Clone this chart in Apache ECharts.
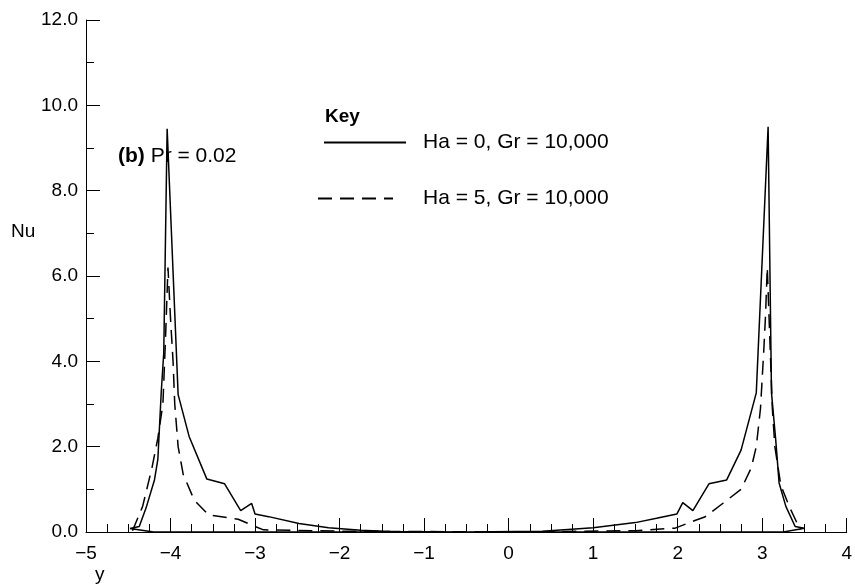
<!DOCTYPE html>
<html>
<head>
<meta charset="utf-8">
<script src="https://cdn.jsdelivr.net/npm/echarts@6/dist/echarts.min.js"></script>
<style>html,body{margin:0;padding:0;background:#fff}#c{width:855px;height:586px}</style>
</head>
<body>
<div id="c"></div>
<script>
// Data
var seriesNames = ['Ha = 0, Gr = 10,000', 'Ha = 5, Gr = 10,000'];
var ha0 = [
  [-4.48,0.08],[-4.37,0.13],[-4.29,0.56],[-4.19,1.22],[-4.15,1.7],[-4.11,3.27],[-4.08,4.2],
  [-4.04,9.45],[-3.91,3.22],[-3.78,2.24],[-3.57,1.24],[-3.36,1.13],[-3.17,0.5],[-3.04,0.67],
  [-3.0,0.42],[-2.84,0.36],[-2.48,0.2],[-2.13,0.1],[-1.75,0.04],[-1.4,0.01],[-0.5,0.0],
  [0.4,0.02],[1.0,0.1],[1.5,0.22],[1.75,0.32],[1.99,0.42],[2.06,0.69],[2.18,0.5],[2.37,1.13],
  [2.58,1.22],[2.75,1.92],[2.93,3.26],[3.07,9.5],[3.11,3.26],[3.16,2.16],[3.2,1.15],[3.28,0.6],
  [3.39,0.13],[3.5,0.09],[3.25,0.0],[-4.2,0.0],[-4.48,0.08]
];
var ha5 = [
  [-4.45,0.03],[-4.33,0.6],[-4.22,1.5],[-4.15,2.2],[-4.09,3.0],[-4.06,4.5],[-4.03,6.2],
  [-4.0,5.0],[-3.97,4.0],[-3.95,3.0],[-3.91,2.0],[-3.85,1.35],[-3.72,0.75],[-3.55,0.4],
  [-3.2,0.3],[-3.0,0.13],[-2.9,0.05],[-2.0,0.02],[0,0.0],[1.5,0.03],[1.97,0.09],[2.22,0.28],
  [2.32,0.35],[2.54,0.68],[2.75,1.0],[2.87,1.5],[2.93,2.0],[2.98,2.9],[3.02,4.3],[3.04,5.1],
  [3.06,6.2],[3.1,4.0],[3.12,2.9],[3.15,2.0],[3.22,1.1],[3.32,0.6],[3.45,0.05]
];
var xMin = -5, xMax = 4, xStep = 1;
var yMin = 0, yMax = 12, yStep = 2;
var yAxisTitle = 'Nu';
var xAxisTitle = 'y';
var panelLabelBold = '(b)';
var panelLabelRest = ' Pr = 0.02';
var keyTitle = 'Key';

var FONT = '"Liberation Sans", Arial, Helvetica, sans-serif';
var chart = echarts.init(document.getElementById('c'), null, {renderer: 'canvas'});
chart.setOption({
  animation: false,
  backgroundColor: '#fff',
  grid: {left: 86, right: 4, top: 20, bottom: 54},
  xAxis: {
    type: 'value', min: xMin, max: xMax, interval: xStep,
    axisLine: {show: true, onZero: false, lineStyle: {color: '#000', width: 1}},
    axisTick: {show: true, inside: true, length: 14, lineStyle: {color: '#000', width: 1}},
    minorTick: {show: true, splitNumber: 4, length: 8, lineStyle: {color: '#000', width: 1}},
    splitLine: {show: false},
    axisLabel: {color: '#000', fontFamily: FONT, fontSize: 19, margin: 12,
      formatter: function (v) { return v < 0 ? '\u2212' + Math.abs(v) : String(v); }}
  },
  yAxis: {
    type: 'value', min: yMin, max: yMax, interval: yStep,
    axisLine: {show: true, onZero: false, lineStyle: {color: '#000', width: 1}},
    axisTick: {show: true, inside: true, length: 14, lineStyle: {color: '#000', width: 1}},
    minorTick: {show: true, splitNumber: 2, length: 8, lineStyle: {color: '#000', width: 1}},
    splitLine: {show: false},
    axisLabel: {color: '#000', fontFamily: FONT, fontSize: 19, margin: 8,
      formatter: function (v) { return v.toFixed(1); }}
  },
  legend: [
    {data: [seriesNames[0]], left: 323, top: 132, padding: 0, itemWidth: 82, itemHeight: 14, itemGap: 0,
      itemStyle: {opacity: 0},
      textStyle: {color: '#000', fontFamily: FONT, fontSize: 21, padding: [0, 0, 0, 12]}},
    {data: [seriesNames[1]], left: 317, top: 188, padding: 0, itemWidth: 75, itemHeight: 14, itemGap: 0,
      itemStyle: {opacity: 0},
      textStyle: {color: '#000', fontFamily: FONT, fontSize: 21, padding: [0, 0, 0, 25]}}
  ],
  graphic: [
    {type: 'text', left: 11, top: 222, style: {text: yAxisTitle, fill: '#000', font: '19px ' + FONT}},
    {type: 'text', left: 95, top: 565, style: {text: xAxisTitle, fill: '#000', font: '19px ' + FONT}},
    {type: 'text', left: 325, top: 107, style: {text: keyTitle, fill: '#000', font: 'bold 19px ' + FONT}},
    {type: 'text', left: 118, top: 146, style: {
      text: '{b|' + panelLabelBold + '}{n|' + panelLabelRest + '}',
      rich: {b: {fontWeight: 'bold', fontSize: 21, fontFamily: FONT, fill: '#000'},
             n: {fontSize: 21, fontFamily: FONT, fill: '#000'}}
    }}
  ],
  series: [
    {name: seriesNames[0], type: 'line', data: ha0, symbol: 'none', showSymbol: false,
      lineStyle: {color: '#000', width: 1.5, type: 'solid'}, itemStyle: {color: '#000'}, z: 3},
    {name: seriesNames[1], type: 'line', data: ha5, symbol: 'none', showSymbol: false,
      lineStyle: {color: '#000', width: 1.5, type: [14, 8]}, itemStyle: {color: '#000'}, z: 2}
  ]
});
</script>
</body>
</html>
